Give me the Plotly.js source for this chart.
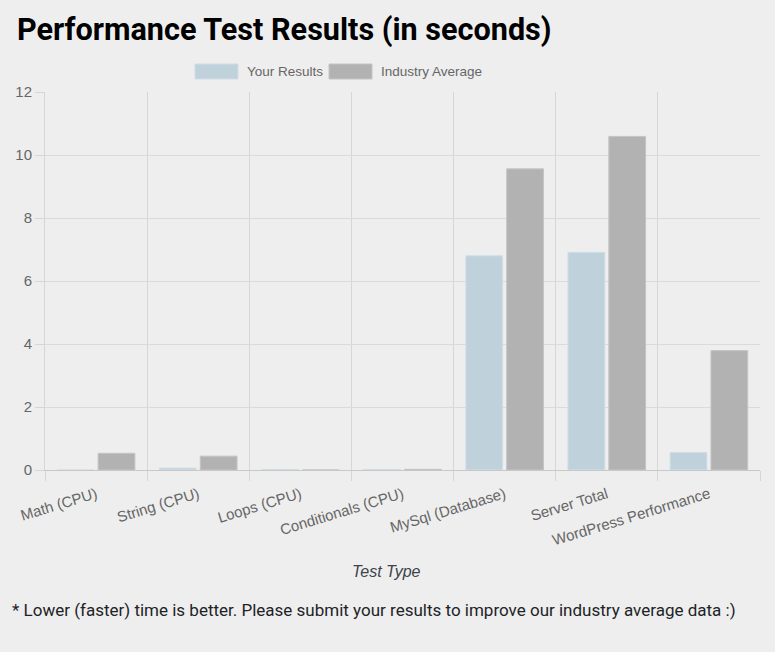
<!DOCTYPE html>
<html>
<head>
<meta charset="utf-8">
<script src="https://cdn.plot.ly/plotly-3.0.1.min.js"></script>
<style>
html,body{margin:0;padding:0;background:#eeeeee;}
#chart{width:775px;height:652px;}
</style>
</head>
<body>
<div id="chart"></div>
<script>
const categories = ['Math (CPU)', 'String (CPU)', 'Loops (CPU)', 'Conditionals (CPU)', 'MySql (Database)', 'Server Total', 'WordPress Performance'];
const yourResults = [0.0, 0.06, 0.02, 0.02, 6.80, 6.91, 0.56];
const industryAverage = [0.53, 0.44, 0.0, 0.02, 9.56, 10.59, 3.79];
const seriesNames = ['Your Results', 'Industry Average'];
const yTicks = [0, 2, 4, 6, 8, 10, 12];

const W = 775, H = 652;
const M = {l: 45, r: 15, t: 92, b: 182};
const pw = W - M.l - M.r, ph = H - M.t - M.b;
const px = x => (x - M.l) / pw;          // pixel x -> paper x
const py = y => (H - M.b - y) / ph;      // pixel y -> paper y

const blueFill = 'rgb(191,209,219)', blueLine = 'rgb(208,222,231)';
const grayFill = 'rgb(178,178,178)', grayLine = 'rgb(196,196,196)';
const tickFont = {family: 'Liberation Sans, Arial, sans-serif', size: 15, color: '#666666'};

const traces = [
  {type: 'bar', name: seriesNames[0], x: categories, y: yourResults,
   marker: {color: blueFill, line: {color: blueLine, width: 1}}, showlegend: false},
  {type: 'bar', name: seriesNames[1], x: categories, y: industryAverage,
   marker: {color: grayFill, line: {color: grayLine, width: 1}}, showlegend: false}
];

// custom legend (wide swatches like the original)
const legendItems = [
  {box: [195, 238], text: 245, name: seriesNames[0], fill: blueFill, line: blueLine},
  {box: [329, 372], text: 379, name: seriesNames[1], fill: grayFill, line: grayLine}
];
const shapes = legendItems.map(it => ({
  type: 'rect', xref: 'paper', yref: 'paper',
  x0: px(it.box[0]), x1: px(it.box[1]), y0: py(79), y1: py(64),
  fillcolor: it.fill, line: {color: it.line, width: 1}
}));
const annotations = legendItems.map(it => ({
  xref: 'paper', yref: 'paper', x: px(it.text), y: py(71.5),
  xanchor: 'left', yanchor: 'middle', showarrow: false, text: it.name,
  font: {family: 'Liberation Sans, Arial, sans-serif', size: 13.5, color: '#666666'}
}));
// x-axis title (centred on the canvas as in the original)
annotations.push({
  xref: 'paper', yref: 'paper', x: px(386), y: py(571),
  xanchor: 'center', yanchor: 'middle', showarrow: false,
  text: '<i>Test Type</i>',
  font: {family: 'Liberation Sans, Arial, sans-serif', size: 16, color: '#3c434a'}
});
annotations.push({
  xref: 'paper', yref: 'paper', x: px(10), y: py(610),
  xanchor: 'left', yanchor: 'middle', showarrow: false,
  text: '* Lower (faster) time is better. Please submit your results to improve our industry average data :)',
  font: {family: 'Roboto, Noto Sans, sans-serif', size: 17, color: '#1d2327'}
});

const layout = {
  width: W, height: H,
  margin: M,
  paper_bgcolor: '#eeeeee', plot_bgcolor: '#eeeeee',
  title: {text: '<b>Performance Test Results (in seconds)</b>', x: 17 / W, xref: 'container', xanchor: 'left',
          y: 1 - 29 / H, yref: 'container', yanchor: 'middle',
          font: {family: 'Roboto, Arial, sans-serif', size: 30.6, color: '#000000'}},
  barmode: 'group', bargap: 0.2, bargroupgap: 0.1,
  showlegend: false,
  xaxis: {
    type: 'category', tickson: 'boundaries', tickangle: -17,
    showgrid: true, gridcolor: 'rgb(214,214,214)', gridwidth: 1,
    ticks: 'outside', ticklen: 10, tickcolor: 'rgb(214,214,214)',
    ticklabelstandoff: 9,
    showline: true, linecolor: 'rgb(200,200,200)', linewidth: 1,
    tickfont: tickFont,
    automargin: false, fixedrange: true
  },
  yaxis: {
    range: [0, 12], tickvals: yTicks, ticktext: yTicks.map(String),
    showgrid: true, gridcolor: 'rgb(218,218,218)', gridwidth: 1,
    zeroline: false,
    ticks: 'outside', ticklen: 9, tickcolor: 'rgb(214,214,214)',
    showline: true, linecolor: 'rgb(214,214,214)', linewidth: 1,
    tickfont: tickFont,
    automargin: false, fixedrange: true
  },
  shapes: shapes,
  annotations: annotations
};

Plotly.newPlot('chart', traces, layout, {displayModeBar: false, staticPlot: true});
</script>
</body>
</html>
